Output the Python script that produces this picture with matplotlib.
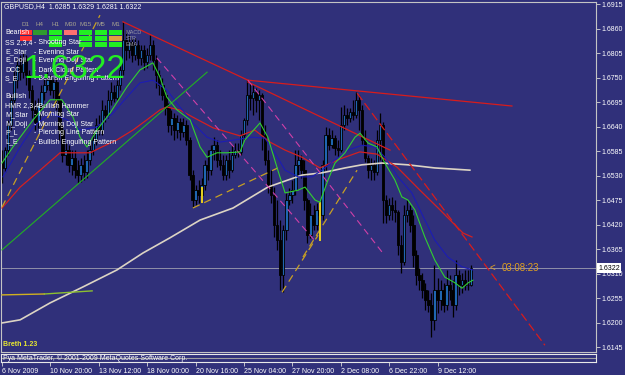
import matplotlib
matplotlib.use("Agg")
import matplotlib.pyplot as plt
import matplotlib.transforms as mtransforms
from matplotlib import font_manager
from matplotlib.patches import Rectangle

# ---------------------------
# Chart data (GBPUSD H4, prices in 1e-4 units)
# ---------------------------
opens = [
    16565, 16547, 16587, 16643, 16700, 16744, 16778, 16762, 16789, 16756,
    16722, 16677, 16650, 16688, 16717, 16733, 16744, 16722, 16740, 16700,
    16632, 16576, 16587, 16554, 16569, 16542, 16531, 16554, 16538, 16565,
    16587, 16610, 16643, 16632, 16677, 16666, 16700, 16717, 16704, 16733,
    16767, 16834, 16812, 16830, 16801, 16823, 16794, 16812, 16785, 16801,
    16823, 16789, 16756, 16733, 16711, 16682, 16643, 16659, 16632, 16650,
    16628, 16643, 16610, 16531, 16475, 16497, 16486, 16509, 16554, 16542,
    16587, 16598, 16565, 16554, 16531, 16565, 16542, 16576, 16587, 16583,
    16621, 16655, 16711, 16704, 16717, 16700, 16711, 16621, 16565, 16509,
    16486, 16419, 16385, 16307, 16408, 16475, 16486, 16497, 16554, 16565,
    16542, 16475, 16396, 16441, 16419, 16453, 16441, 16554, 16621, 16598,
    16614, 16592, 16587, 16643, 16666, 16659, 16673, 16666, 16700, 16677,
    16610, 16569, 16542, 16554, 16538, 16610, 16643, 16475, 16441, 16464,
    16453, 16448, 16374, 16336, 16441, 16453, 16419, 16351, 16307, 16295,
    16273, 16250, 16239, 16206, 16273, 16250, 16273, 16239, 16284, 16273,
    16239, 16307, 16284, 16295, 16284, 16285,
]
highs = [
    16587, 16594, 16655, 16711, 16767, 16794, 16801, 16807, 16801, 16767,
    16733, 16700, 16704, 16733, 16749, 16762, 16756, 16751, 16749, 16711,
    16643, 16603, 16598, 16587, 16587, 16565, 16569, 16576, 16587, 16610,
    16632, 16659, 16666, 16700, 16688, 16722, 16740, 16733, 16744, 16785,
    16875, 16857, 16845, 16839, 16839, 16834, 16823, 16823, 16816, 16845,
    16834, 16801, 16767, 16749, 16722, 16693, 16677, 16670, 16666, 16659,
    16659, 16655, 16616, 16542, 16509, 16520, 16524, 16565, 16587, 16598,
    16616, 16610, 16587, 16576, 16576, 16587, 16598, 16603, 16603, 16632,
    16659, 16744, 16740, 16733, 16726, 16722, 16715, 16643, 16587, 16542,
    16504, 16475, 16430, 16419, 16491, 16502, 16520, 16587, 16587, 16576,
    16565, 16479, 16468, 16464, 16468, 16468, 16565, 16639, 16637, 16632,
    16621, 16610, 16684, 16688, 16682, 16682, 16700, 16717, 16711, 16688,
    16632, 16576, 16569, 16565, 16632, 16670, 16650, 16486, 16479, 16482,
    16475, 16453, 16396, 16464, 16475, 16464, 16441, 16363, 16322, 16311,
    16289, 16273, 16266, 16329, 16300, 16295, 16289, 16318, 16307, 16295,
    16340, 16318, 16311, 16318, 16318, 16329,
]
lows = [
    16513, 16538, 16576, 16632, 16688, 16726, 16744, 16749, 16733, 16704,
    16659, 16632, 16637, 16677, 16700, 16722, 16711, 16704, 16677, 16610,
    16560, 16554, 16538, 16531, 16524, 16513, 16515, 16520, 16524, 16554,
    16576, 16598, 16621, 16621, 16650, 16659, 16688, 16695, 16700, 16722,
    16756, 16789, 16794, 16785, 16789, 16778, 16778, 16767, 16771, 16789,
    16767, 16726, 16711, 16700, 16666, 16628, 16621, 16610, 16614, 16610,
    16616, 16598, 16520, 16459, 16464, 16468, 16475, 16497, 16520, 16531,
    16565, 16549, 16542, 16520, 16520, 16524, 16538, 16569, 16571, 16576,
    16610, 16643, 16677, 16666, 16673, 16655, 16587, 16554, 16491, 16468,
    16392, 16363, 16273, 16268, 16385, 16464, 16468, 16486, 16531, 16524,
    16453, 16378, 16390, 16408, 16408, 16430, 16430, 16542, 16587, 16592,
    16576, 16571, 16583, 16632, 16643, 16650, 16655, 16659, 16632, 16598,
    16560, 16524, 16520, 16520, 16531, 16565, 16423, 16423, 16430, 16430,
    16426, 16351, 16311, 16329, 16426, 16403, 16325, 16284, 16273, 16255,
    16228, 16224, 16167, 16183, 16221, 16228, 16224, 16228, 16250, 16212,
    16228, 16262, 16266, 16273, 16273, 16281,
]
closes = [
    16547, 16587, 16643, 16700, 16744, 16778, 16762, 16789, 16756, 16722,
    16677, 16650, 16688, 16717, 16733, 16744, 16722, 16740, 16700, 16632,
    16576, 16587, 16554, 16569, 16542, 16531, 16554, 16538, 16565, 16587,
    16610, 16643, 16632, 16677, 16666, 16700, 16717, 16704, 16733, 16767,
    16834, 16812, 16830, 16801, 16823, 16794, 16812, 16785, 16801, 16823,
    16789, 16756, 16733, 16711, 16682, 16643, 16659, 16632, 16650, 16628,
    16643, 16610, 16531, 16475, 16497, 16486, 16509, 16554, 16542, 16587,
    16598, 16565, 16554, 16531, 16565, 16542, 16576, 16587, 16583, 16621,
    16655, 16711, 16704, 16717, 16700, 16711, 16621, 16565, 16509, 16486,
    16419, 16385, 16307, 16408, 16475, 16486, 16497, 16554, 16565, 16542,
    16475, 16396, 16441, 16419, 16453, 16441, 16554, 16621, 16598, 16614,
    16592, 16587, 16643, 16666, 16659, 16673, 16666, 16700, 16677, 16610,
    16569, 16542, 16554, 16538, 16610, 16643, 16475, 16441, 16464, 16453,
    16448, 16374, 16336, 16441, 16453, 16419, 16351, 16307, 16295, 16273,
    16250, 16239, 16206, 16273, 16250, 16273, 16239, 16284, 16273, 16239,
    16307, 16284, 16295, 16284, 16285, 16322,
]

# moving averages (bar index, price)
green_x = [0, 3.6, 10.3, 15.9, 19.8, 23.5, 25.8, 28.1, 31.4, 35.7,
           41.3, 45.6, 49.9, 52.2, 54.5, 57.9, 62.2, 65.5, 67.8, 71.1,
           74.4, 78.7, 80.3, 85.3, 87.9, 91.2, 93.6, 97.9, 100.2, 103.5,
           105.1, 107.8, 110.1, 113.4, 116.7, 118.4, 121, 124, 126.6, 129.9,
           132.2, 134.2, 136.5, 139.8, 143.1, 146.4, 149.8, 152.1, 154.1, 155.7]
green_y = [16558, 16594, 16655, 16700, 16700, 16661, 16616, 16594, 16632, 16670,
           16729, 16767, 16783, 16751, 16706, 16677, 16655, 16594, 16571, 16581,
           16581, 16583, 16610, 16648, 16616, 16542, 16491, 16497, 16504, 16475,
           16470, 16520, 16558, 16581, 16616, 16625, 16603, 16594, 16558, 16520,
           16482, 16475, 16453, 16392, 16340, 16302, 16289, 16277, 16289, 16295]
blue_x = [0.3, 6, 10.3, 15.9, 21.5, 25.8, 31.4, 36.7, 41.3, 45.6,
          49.9, 54.5, 58.8, 63.1, 67.8, 72.1, 77, 82.6, 86.9, 90.2,
          93.6, 97.9, 102.5, 105.8, 110.1, 114.4, 119, 123.3, 126.6, 130.9,
          135.5, 139.8, 143.1, 147.4, 152.1, 155.7]
blue_y = [16527, 16594, 16639, 16670, 16655, 16632, 16639, 16670, 16706, 16738,
          16744, 16722, 16684, 16648, 16616, 16605, 16610, 16616, 16614, 16581,
          16542, 16527, 16527, 16542, 16565, 16587, 16598, 16594, 16571, 16527,
          16491, 16430, 16385, 16347, 16325, 16318]
red_x = [0, 6, 12.6, 19.2, 24.8, 29.1, 32.4, 38, 43.3, 47.9,
         52.2, 54.5, 58.8, 63.1, 69.8, 78.7, 83.6, 88.6, 93.6, 99.2,
         105.1, 111.7, 118.3, 124, 130.6, 138.2, 144.8, 152.4, 155.4]
red_y = [16457, 16504, 16542, 16581, 16581, 16581, 16592, 16610, 16632, 16655,
         16677, 16684, 16677, 16661, 16637, 16619, 16632, 16605, 16587, 16571,
         16547, 16567, 16583, 16578, 16549, 16497, 16453, 16401, 16392]
white_x = [0, 6, 15.9, 26.8, 38, 46.6, 55.5, 65.5, 76.4, 87.9,
           99.2, 105.8, 113.4, 119, 125.6, 134.2, 143.1, 154.7]
white_y = [16199, 16206, 16244, 16280, 16318, 16356, 16390, 16430, 16457, 16504,
           16531, 16536, 16547, 16554, 16558, 16554, 16547, 16542]

# trend lines: (bar0, price0, bar1, price1)
red_lines = [(40, 16875, 81.3, 16744), (81.3, 16744, 168.6, 16686),
             (81.3, 16740, 128.3, 16587)]
red_dashed = [(117.4, 16715, 179.5, 16149)]
magenta_lines = [(51.2, 16794, 103.5, 16383), (81.3, 16744, 125.9, 16356)]
yellow_lines = [(0, 16459, 32.4, 16890), (63.1, 16457, 91.2, 16547),
                (92.6, 16268, 104.5, 16396), (99.5, 16347, 117.4, 16542)]
yellow_marks = [(66.1, 16502, 66.1, 16470), (105.1, 16468, 105.1, 16385)]
green_lines = [(0, 16363, 67.8, 16762)]
flat_lines = [(0, 16262, 14.0, 16264), (14.0, 16264, 29.8, 16271)]

ytick_vals = [1.6915, 1.6860, 1.6805, 1.6750, 1.6695, 1.6640, 1.6585, 1.6530,
              1.6475, 1.6420, 1.6365, 1.6310, 1.6255, 1.6200, 1.6145]
xtick_bars = [0, 16, 32, 48, 64, 80, 96, 112, 128, 144]
xtick_labels = ["6 Nov 2009", "10 Nov 20:00", "13 Nov 12:00", "18 Nov 00:00",
                "20 Nov 16:00", "25 Nov 04:00", "27 Nov 20:00", "2 Dec 08:00",
                "6 Dec 22:00", "9 Dec 12:00"]

timeframes = ["D1", "H4", "H1", "M30", "M15", "M5", "M1"]
signal_colors = [
    ["#ff3030", "#2f9a2f", "#22ee22", "#ff7070", "#22ee22", "#22ee22", "#22ee22"],
    ["#ff3030", None, "#22ee22", None, "#22ee22", "#22ee22", "#e0a040"],
    [None, None, "#22ee22", None, "#22ee22", "#22ee22", "#22ee22"],
]
bearish_codes = ["SS 2,3,4", "E_Star", "E_Doji", "DCC", "S_E"]
bearish_names = ["Shooting Star", "Evening Star", "Evening Doji Star",
                 "Dark Cloud Pattern", "Bearish Engulfing Pattern"]
bullish_codes = ["HMR 2,3,4", "M_Star", "M_Doji", "P_L", "L_E"]
bullish_names = ["Bullish Hammer", "Morning Star", "Morning Doji Star",
                 "Piercing Line Pattern", "Bullish Engulfing Pattern"]

# ---------------------------
# Styling / layout
# ---------------------------
W, H = 625, 375
BG = "#30307a"
names = {f.name for f in font_manager.fontManager.ttflist}
NARROW = "Liberation Sans Narrow" if "Liberation Sans Narrow" in names else "Liberation Sans"
plt.rcParams["font.family"] = ["Liberation Sans", "DejaVu Sans"]


def fp(px, py):
    """pixel position -> figure fraction"""
    return px / W, 1 - py / H


fig = plt.figure(figsize=(W / 100, H / 100), dpi=100, facecolor=BG)
ax = fig.add_axes([1 / W, 1 - 352 / H, 595 / W, 350 / H], facecolor=BG)
strip = fig.add_axes([1 / W, 1 - 362 / H, 595 / W, 8 / H], facecolor=BG)

sc = 1e4
o = [v / sc for v in opens]
h = [v / sc for v in highs]
l = [v / sc for v in lows]
c = [v / sc for v in closes]
bars = list(range(len(c)))

# candles
ax.vlines(bars, l, h, color="black", lw=0.9, zorder=2)
body = [cc - oo for oo, cc in zip(o, c)]
body_col = ["#1f66b0" if cc >= oo else "black" for oo, cc in zip(o, c)]
ax.bar(bars, body, bottom=o, width=0.8, color=body_col, edgecolor="black",
       linewidth=0.6, zorder=2.5)


def seg(lines, **kw):
    for x0, p0, x1, p1 in lines:
        ax.plot([x0, x1], [p0 / sc, p1 / sc], **kw)


# indicators
ax.plot(white_x, [v / sc for v in white_y], color="#dcd4c4", lw=1.2, zorder=3)
ax.plot(red_x, [v / sc for v in red_y], color="#d42020", lw=0.9, zorder=3)
ax.plot(blue_x, [v / sc for v in blue_y], color="#1c1cb4", lw=0.8, zorder=3)
ax.plot(green_x, [v / sc for v in green_y], color="#30d030", lw=0.8, zorder=3.2)

seg(red_lines, color="#d81c1c", lw=0.9, zorder=3)
seg(red_dashed, color="#d81c1c", lw=0.9, dashes=(7, 3), zorder=3)
seg(magenta_lines, color="#d040a8", lw=0.8, dashes=(6, 4), zorder=3)
seg(yellow_lines, color="#c8a024", lw=0.9, dashes=(6, 4), zorder=3)
seg(yellow_marks, color="#e8d020", lw=1.4, zorder=3)
seg(green_lines, color="#22b022", lw=0.8, zorder=3)
seg(flat_lines[:1], color="#d0b020", lw=1.0, zorder=3)
seg(flat_lines[1:], color="#8cc030", lw=1.0, zorder=3)

# bid line + price box
last = c[-1]
ax.axhline(last, color="#a0a0b0", lw=0.6, zorder=1.5)
blend = mtransforms.blended_transform_factory(ax.transAxes, ax.transData)
ax.text(1.004, last, f"{last:.4f}", transform=blend, ha="left", va="center",
        fontsize=5, color="black", zorder=6,
        bbox=dict(boxstyle="square,pad=0.18", fc="white", ec="none"))
ax.text(161.3, last, "<", ha="left", va="center", fontsize=7, color="#e0a020", zorder=5)
ax.text(165.3, last, "03:08:23", ha="left", va="center", fontsize=7,
        color="#e0a020", family=NARROW, zorder=5)

ax.set_xlim(-0.33, 196.4)
ax.set_ylim(1.61338, 1.69195)
ax.yaxis.tick_right()
ax.set_yticks(ytick_vals)
ax.set_yticklabels([f"{v:.4f}" for v in ytick_vals])
ax.tick_params(axis="y", colors="#d8d8d8", labelcolor="white", labelsize=5,
               length=3, width=0.6, pad=1)
ax.tick_params(axis="x", bottom=False, labelbottom=False)
for sp in ax.spines.values():
    sp.set_color("#c4c4c4")
    sp.set_linewidth(0.8)

# bottom strip with time axis
strip.set_xlim(ax.get_xlim())
strip.set_ylim(0, 1)
strip.set_yticks([])
strip.axhline(0.5, color="#a0a0a0", lw=0.8)
strip.set_xticks(xtick_bars)
strip.set_xticklabels(xtick_labels)
strip.tick_params(axis="x", colors="#d8d8d8", labelcolor="white", labelsize=5,
                  length=3, width=0.6, pad=1)
for lbl in strip.get_xticklabels():
    lbl.set_ha("left")
for sp in strip.spines.values():
    sp.set_color("#e8e8e8")
    sp.set_linewidth(0.8)
strip.text(0.004, 0.5, "Руа MetaTrader, © 2001-2009 MetaQuotes Software Corp.",
           transform=strip.transAxes, ha="left", va="center", fontsize=5,
           color="white", zorder=5)

# ---------------------------
# Top-left info panel
# ---------------------------
fig.text(*fp(4, 7), f"GBPUSD,H4  {o[-1]:.4f} {h[-1]:.4f} {l[-1]:.4f} {last:.4f}",
         ha="left", va="center", fontsize=5, color="white")

col_left = [20, 33, 49, 64, 79, 95, 109]
col_w = [12, 14, 13, 13, 13, 12, 13]
row_top = [30.5, 36.5, 42.5]
for j, tf in enumerate(timeframes):
    fig.text(*fp(col_left[j] + col_w[j] / 2, 25), tf, ha="center", va="center",
             fontsize=4.5, color="#a8a490")
for r, row in enumerate(signal_colors):
    for j, col in enumerate(row):
        if col is None:
            continue
        x0, y0 = fp(col_left[j], row_top[r] + 4)
        fig.add_artist(Rectangle((x0, y0), col_w[j] / W, 4 / H,
                                 transform=fig.transFigure, color=col, lw=0))
for k, name in enumerate(["MACD", "STR", "EMA"]):
    fig.text(*fp(126, 33 + 5.5 * k), name, ha="left", va="center",
             fontsize=4, color="#9898a8")

fig.text(*fp(5, 33), "Bearish", ha="left", va="center", fontsize=5, color="white")
for k, (code, name) in enumerate(zip(bearish_codes, bearish_names)):
    yy = 43 + 9 * k
    fig.text(*fp(5, yy), code, ha="left", va="center", fontsize=5, color="white")
    fig.text(*fp(34, yy), "- " + name, ha="left", va="center", fontsize=5, color="white")
fig.text(*fp(5, 97), "Bullish", ha="left", va="center", fontsize=5, color="white")
for k, (code, name) in enumerate(zip(bullish_codes, bullish_names)):
    yy = 106 + 9 * k
    fig.text(*fp(5, yy), code, ha="left", va="center", fontsize=5, color="white")
    fig.text(*fp(34, yy), "- " + name, ha="left", va="center", fontsize=5, color="white")

big_size = 28 if NARROW != "Liberation Sans" else 24
fig.text(*fp(23, 78), f"{last:.4f}", ha="left", va="baseline", fontsize=big_size,
         color="#22ee22", family=NARROW)

fig.text(*fp(3, 344), "Breth 1.23", ha="left", va="center", fontsize=5,
         color="#e8e830", fontweight="bold")

fig.savefig("out.png", dpi=100, facecolor=BG)
